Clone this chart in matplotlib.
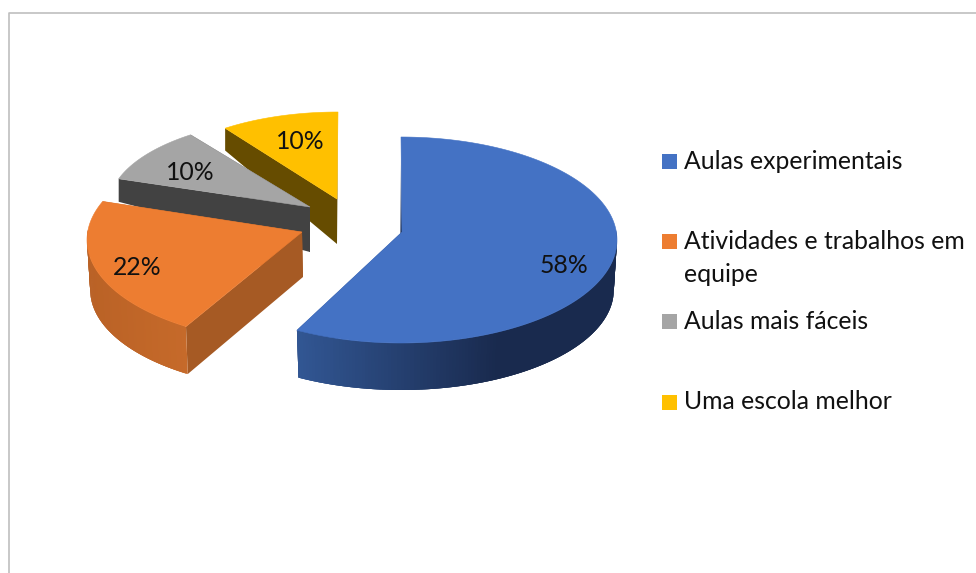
import numpy as np
import matplotlib
matplotlib.use("Agg")
import matplotlib.pyplot as plt
from matplotlib.collections import PolyCollection
from matplotlib.patches import Polygon, Rectangle

plt.rcParams['font.family'] = ['Lato', 'DejaVu Sans']

# Chart data
categories = ["Aulas experimentais", "Atividades e trabalhos em\nequipe", "Aulas mais fáceis", "Uma escola melhor"]
values = [58, 22, 10, 10]

# Colours for the top face, the cut face and the two ends of the outer wall
top_colors = ["#4472C4", "#ED7D31", "#A5A5A5", "#FFC000"]
cut_colors = ["#1B2F57", "#A65A24", "#424242", "#664C00"]
wall_left = [(50, 87, 148), (186, 98, 38), (110, 110, 110), (170, 128, 0)]
wall_right = [(25, 42, 78), (198, 106, 42), (110, 110, 110), (170, 128, 0)]
wall_span = [(297, 500), (90, 187), (119, 310), (225, 338)]

# Every slice sits at its own place because of the explosion and the perspective:
# rim centre, rim radii, slice tip and a small angular skew
rim_x = [401, 303, 307, 338]
rim_y = [240, 240, 206, 197]
rim_a = [216, 216, 198, 192]
rim_b = [103, 103, 88, 85]
tip_x = [402, 302, 310, 337]
tip_y = [232, 232, 207, 199]
skew = [0, 4, 0, 0]
tip_shift = [-2, 1, 0, 0]
floor_scale = [0.985, 0.985, 1, 1]
label_rx = [0.775, 0.80, 0.75, 0.62]
label_ry = [1.0, 0.88, 0.657, 0.69]

TIP_DEPTH = 45


def rim_depth(t):
    # wall gets shorter towards the back of the pie
    return np.interp(np.cos(t), [-1, 0, 0.15, 0.3, 1], [47, 50, 45, 23, 22])


def rim_point(i, t):
    return rim_x[i] + rim_a[i] * np.sin(t), rim_y[i] - rim_b[i] * np.cos(t)


def floor_x(i, t):
    # the lower rim is a little narrower than the upper one
    return rim_x[i] + rim_a[i] * np.sin(t) * floor_scale[i]


def cut_face(i, t):
    x, y = rim_point(i, t)
    return [(x, y), (floor_x(i, t), y + rim_depth(t)),
            (tip_x[i] + tip_shift[i], tip_y[i] + TIP_DEPTH), (tip_x[i], tip_y[i])]


fig = plt.figure(figsize=(9.76, 5.73), dpi=100)
ax = fig.add_axes([0, 0, 1, 1])
ax.set_xlim(0, 976)
ax.set_ylim(573, 0)
ax.axis('off')

# chart frame, only the top and left edges show
ax.plot([8.5, 8.5, 976], [573, 12.5, 12.5], color="#BFBFBF", lw=1.2, zorder=1)

edges = np.radians(np.cumsum([0] + values) * 3.6)

# back slices first so the front ones overlap them
for i in reversed(range(len(values))):
    z = 2 + (len(values) - i) * 4
    t0 = edges[i] + np.radians(skew[i])
    t1 = edges[i + 1] + np.radians(skew[i])
    ts = np.linspace(t0, t1, 240)
    xs, ys = rim_point(i, ts)

    # hidden end cut, then the start cut that faces the viewer
    ax.add_patch(Polygon(cut_face(i, t1), fc=cut_colors[i], ec='none', zorder=z))
    ax.add_patch(Polygon(cut_face(i, t0), fc=cut_colors[i], ec='none', zorder=z + 1))

    # outer wall on the front of the rim, overlapping strips for the gradient
    front = ts[np.cos(ts) < 0.1]
    quads = []
    shades = []
    for k in range(len(front) - 1):
        step = front[k:k + 4]
        tx, ty = rim_point(i, step)
        fx = floor_x(i, step)
        fy = ty + rim_depth(step)
        quads.append(list(zip(tx, ty)) + list(zip(fx[::-1], fy[::-1])))
        f = np.clip((tx[0] - wall_span[i][0]) / (wall_span[i][1] - wall_span[i][0]), 0, 1)
        shades.append((np.array(wall_left[i]) * (1 - f) + np.array(wall_right[i]) * f) / 255)
    if quads:
        ax.add_collection(PolyCollection(quads, facecolors=shades, edgecolors='none', zorder=z + 2))

    # top face
    outline = [(tip_x[i], tip_y[i])] + list(zip(xs, ys))
    ax.add_patch(Polygon(outline, fc=top_colors[i], ec=top_colors[i], lw=0.4, zorder=z + 3))

    # percentage label
    mid = (t0 + t1) / 2
    lx = tip_x[i] + rim_a[i] * label_rx[i] * np.sin(mid)
    ly = rim_y[i] - rim_b[i] * label_ry[i] * np.cos(mid)
    ax.text(lx, ly, f"{values[i]}%", fontsize=17.8, color="#111111", ha='center', va='center', zorder=40)

# legend drawn by hand: keys and text rows
legend_key_y = [154, 234, 314, 395]
legend_base_y = [169, 249, 329, 409]
for i, label in enumerate(categories):
    ax.add_patch(Rectangle((662, legend_key_y[i]), 15, 15, fc=top_colors[i], ec='none', zorder=41))
    for row, line in enumerate(label.split("\n")):
        ax.text(684, legend_base_y[i] + row * 33, line, fontsize=17.8, color="#111111",
                ha='left', va='baseline', zorder=41)

fig.savefig("out.png", dpi=100)
